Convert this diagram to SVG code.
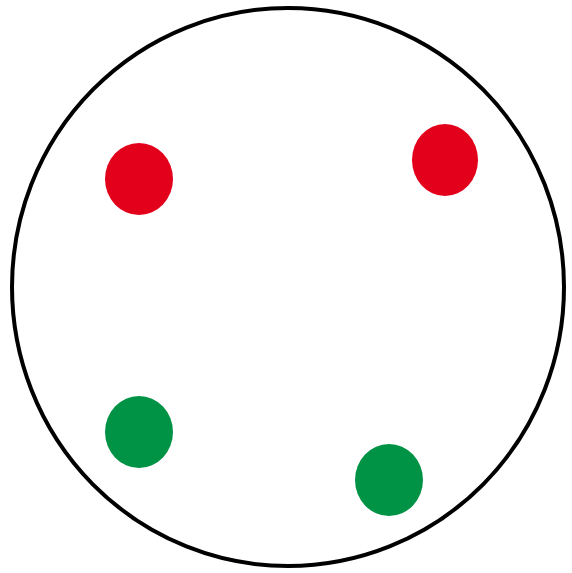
<svg xmlns="http://www.w3.org/2000/svg" width="572" height="573" viewBox="0 0 572 573">
<style>
.ring{fill:#fff;stroke:#000;stroke-width:4}
.red{fill:#e3001b}
.green{fill:#009245}
</style>
<rect width="572" height="573" fill="#fff"/>
<g id="boundary"><ellipse class="ring" cx="288" cy="287" rx="276" ry="279"/></g>
<g id="red1"><ellipse class="red" cx="139" cy="179" rx="34" ry="36"/></g>
<g id="red2"><ellipse class="red" cx="445" cy="160" rx="33" ry="36"/></g>
<g id="green1"><ellipse class="green" cx="139" cy="432" rx="34" ry="36"/></g>
<g id="green2"><ellipse class="green" cx="389" cy="480" rx="34" ry="36"/></g>
<g id="connectors"></g>
</svg>
